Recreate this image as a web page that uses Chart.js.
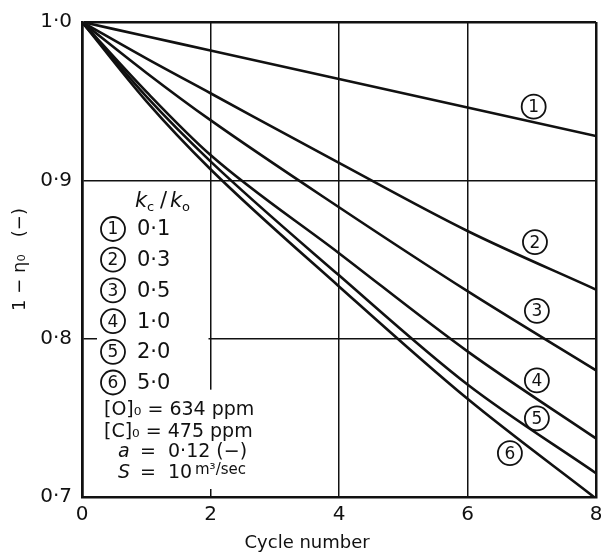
<!DOCTYPE html>
<html>
<head>
    <title>Cycle number vs 1 - eta</title>
    <script src="https://cdn.jsdelivr.net/npm/chart.js"></script>
    <style>
        html, body { margin: 0; padding: 0; background: #fff; }
        #wrap { width: 601px; height: 554px; }
    </style>
</head>
<body>
    <div id="wrap"><canvas id="cycleChart" width="601" height="554"></canvas></div>

    <script>
    // values
    const cycles = [0, 1, 2, 4, 6, 8];
    const ratios = ['0·1', '0·3', '0·5', '1·0', '2·0', '5·0'];
    const curve1 = [1.0, 0.991, 0.982, 0.964, 0.946, 0.928];
    const curve2 = [1.0, 0.977, 0.955, 0.911, 0.868, 0.831];
    const curve3 = [1.0, 0.968, 0.938, 0.883, 0.830, 0.780];
    const curve4 = [1.0, 0.956, 0.916, 0.854, 0.792, 0.737];
    const curve5 = [1.0, 0.953, 0.912, 0.840, 0.771, 0.715];
    const curve6 = [1.0, 0.950, 0.907, 0.833, 0.762, 0.699];
    const curves = [curve1, curve2, curve3, curve4, curve5, curve6];
    // where the circled numbers sit (cycle, value)
    const tagX = [7.03, 7.05, 7.08, 7.08, 7.08, 6.66];
    const tagY = [0.9465, 0.861, 0.8176, 0.7736, 0.7497, 0.7277];

    const FONT = 'DejaVu Sans';
    const INK = '#111';

    function circled(ctx, cx, cy, n) {
        ctx.beginPath();
        ctx.arc(cx, cy, 12, 0, Math.PI * 2);
        ctx.lineWidth = 1.8;
        ctx.strokeStyle = INK;
        ctx.stroke();
        ctx.font = '17px ' + FONT;
        ctx.textAlign = 'center';
        ctx.textBaseline = 'middle';
        ctx.fillText(String(n), cx, cy + 1);
    }

    const annotate = {
        id: 'annotate',
        beforeDatasetsDraw(chart) {
            // the key sits on a blank patch of the grid
            const {ctx, chartArea: a, scales: {x, y}} = chart;
            const y8 = y.getPixelForValue(0.8);
            const x2 = x.getPixelForValue(2);
            ctx.save();
            ctx.fillStyle = '#fff';
            ctx.fillRect(a.left + 15, y8 - 4, x2 - a.left - 17, 8);
            ctx.fillRect(x2 - 4, y8 + 51, 8, a.bottom - 8 - (y8 + 51));
            ctx.restore();
        },
        afterDraw(chart) {
            const {ctx, chartArea: a, scales: {x, y}} = chart;
            ctx.save();
            ctx.fillStyle = INK;

            // curve tags
            tagX.forEach((v, i) => {
                circled(ctx, x.getPixelForValue(v), y.getPixelForValue(tagY[i]), i + 1);
            });

            // key heading kc / ko
            const L = a.left;
            ctx.textAlign = 'left';
            ctx.textBaseline = 'alphabetic';
            ctx.font = 'italic 21px ' + FONT;
            ctx.fillText('k', L + 53, 207);
            ctx.font = '13px ' + FONT;
            ctx.fillText('c', L + 65, 211);
            ctx.font = '21px ' + FONT;
            ctx.fillText('/', L + 78, 207);
            ctx.font = 'italic 21px ' + FONT;
            ctx.fillText('k', L + 88, 207);
            ctx.font = '13px ' + FONT;
            ctx.fillText('o', L + 100, 211);

            // key rows
            ratios.forEach((r, i) => {
                const cy = 229 + i * 30.7;
                circled(ctx, L + 31, cy, i + 1);
                ctx.font = '21px ' + FONT;
                ctx.textAlign = 'left';
                ctx.textBaseline = 'middle';
                ctx.fillText(r, L + 55, cy + 1);
            });

            // conditions
            ctx.textBaseline = 'middle';
            ctx.font = '19px ' + FONT;
            ctx.fillText('[O]₀ = 634 ppm', L + 22, 410);
            ctx.fillText('[C]₀ = 475 ppm', L + 22, 432);
            ctx.font = 'italic 19px ' + FONT;
            ctx.fillText('a', L + 36, 452);
            ctx.fillText('S', L + 36, 473);
            ctx.font = '19px ' + FONT;
            ctx.fillText('=  0·12 (−)', L + 58, 452);
            ctx.fillText('=  10', L + 58, 473);
            ctx.font = '15px ' + FONT;
            ctx.fillText('m³/sec', L + 113, 470);

            // x title
            ctx.font = '18px ' + FONT;
            ctx.textAlign = 'center';
            ctx.fillText('Cycle number', a.left + 0.438 * (a.right - a.left), 543);
            ctx.restore();
        }
    };

    const datasets = curves.map((c, i) => ({
        label: ratios[i],
        data: cycles.map((cx, j) => ({x: cx, y: c[j]})),
        borderColor: INK,
        borderWidth: 2.6,
        pointRadius: 0,
        fill: false,
        cubicInterpolationMode: 'monotone'
    }));

    new Chart(document.getElementById('cycleChart').getContext('2d'), {
        type: 'line',
        data: {datasets},
        plugins: [annotate],
        options: {
            responsive: false,
            animation: false,
            layout: {padding: {top: 19, right: 5, left: 0, bottom: 0}},
            plugins: {legend: {display: false}, tooltip: {enabled: false}},
            scales: {
                x: {
                    type: 'linear',
                    min: 0, max: 8,
                    afterFit: s => { s.height = 57; s.paddingLeft = 0; s.paddingRight = 0; },
                    ticks: {stepSize: 2, color: INK, padding: 6, font: {family: FONT, size: 20}},
                    grid: {
                        color: INK,
                        drawTicks: false,
                        lineWidth: c => (c.tick && (c.tick.value === 0 || c.tick.value === 8)) ? 2.5 : 1.5
                    },
                    border: {color: INK, width: 2.5}
                },
                y: {
                    min: 0.7, max: 1.0,
                    afterFit: s => { s.width = 82; },
                    ticks: {
                        stepSize: 0.1, color: INK, padding: 10,
                        font: {family: FONT, size: 20},
                        callback: v => v.toFixed(1).replace('.', '·')
                    },
                    grid: {
                        color: INK,
                        drawTicks: false,
                        lineWidth: c => (c.tick && Math.abs(c.tick.value - 1.0) < 1e-6) ? 2.5 : 1.5
                    },
                    border: {color: INK, width: 2.5},
                    title: {
                        display: true,
                        text: '1 − η₀   (−)',
                        color: INK,
                        padding: {top: 10, bottom: 0},
                        font: {family: FONT, size: 18}
                    }
                }
            }
        }
    });
    </script>
</body>
</html>
